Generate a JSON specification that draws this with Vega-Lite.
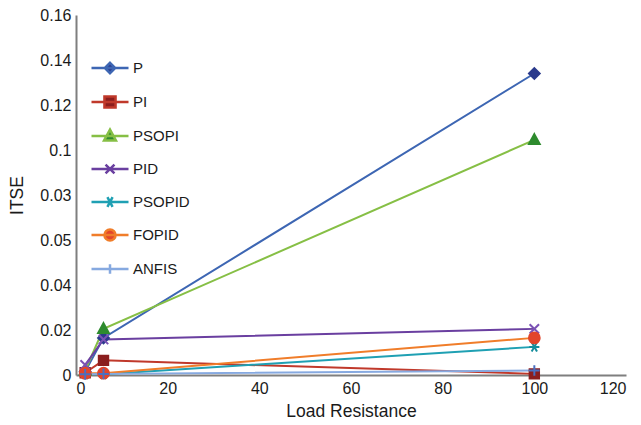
{
  "$schema": "https://vega.github.io/schema/vega-lite/v6.json",
  "width": 550,
  "height": 360,
  "autosize": "none",
  "padding": {"left": 76, "top": 15, "right": 15, "bottom": 50},
  "background": "white",
  "config": {
    "view": {"stroke": null},
    "font": "Liberation Sans",
    "axis": {
      "grid": false,
      "ticks": false,
      "domainColor": "#7f7f7f",
      "domainWidth": 2,
      "labelFont": "Liberation Sans",
      "labelFontSize": 16,
      "labelColor": "#1a1a1a",
      "titleFont": "Liberation Sans",
      "titleFontSize": 17.5,
      "titleFontWeight": "normal",
      "titleColor": "#1a1a1a"
    }
  },
  "data": {
    "values": [
      {"series": "P", "x": 2, "y": 0.0015},
      {"series": "P", "x": 6, "y": 0.0165},
      {"series": "P", "x": 100, "y": 0.134},
      {"series": "PI", "x": 2, "y": 0.001},
      {"series": "PI", "x": 6, "y": 0.0065},
      {"series": "PI", "x": 100, "y": 0.0005},
      {"series": "PSOPI", "x": 2, "y": 0.002},
      {"series": "PSOPI", "x": 6, "y": 0.0205},
      {"series": "PSOPI", "x": 100, "y": 0.1045},
      {"series": "PID", "x": 2, "y": 0.0045},
      {"series": "PID", "x": 6, "y": 0.0158},
      {"series": "PID", "x": 100, "y": 0.0205},
      {"series": "PSOPID", "x": 2, "y": 0.0003},
      {"series": "PSOPID", "x": 6, "y": 0.0003},
      {"series": "PSOPID", "x": 100, "y": 0.0125},
      {"series": "FOPID", "x": 2, "y": 0.0008},
      {"series": "FOPID", "x": 6, "y": 0.0008},
      {"series": "FOPID", "x": 100, "y": 0.0165},
      {"series": "ANFIS", "x": 2, "y": 0.0003},
      {"series": "ANFIS", "x": 6, "y": 0.0005},
      {"series": "ANFIS", "x": 100, "y": 0.002}
    ]
  },
  "encoding": {
    "x": {
      "field": "x", "type": "quantitative",
      "scale": {"domain": [0, 120], "nice": false},
      "axis": {"values": [0, 20, 40, 60, 80, 100, 120], "title": "Load Resistance", "labelPadding": 5, "titlePadding": 6}
    },
    "y": {
      "field": "y", "type": "quantitative",
      "scale": {"domain": [0, 0.16], "nice": false},
      "axis": {
        "values": [0, 0.02, 0.04, 0.06, 0.08, 0.1, 0.12, 0.14, 0.16],
        "labelExpr": "abs(datum.value-0.06)<0.001 ? '0.05' : abs(datum.value-0.08)<0.001 ? '0.03' : format(datum.value, '.2~f')",
        "title": "ITSE",
        "labelPadding": 5,
        "titlePadding": 13
      }
    }
  },
  "layer": [
    {
      "mark": {"type": "line", "strokeWidth": 2},
      "encoding": {
        "color": {
          "field": "series", "type": "nominal",
          "scale": {
            "domain": ["P", "PI", "PSOPI", "PID", "PSOPID", "FOPID", "ANFIS"],
            "range": ["#3d66b3", "#c0392b", "#86bf45", "#6a3fa0", "#1fa0b3", "#f07d2a", "#86a9e0"]
          },
          "legend": null
        }
      }
    },
    {
      "mark": {"type": "point", "filled": true, "size": 180, "strokeWidth": 2, "opacity": 1},
      "encoding": {
        "shape": {
          "field": "series", "type": "nominal",
          "scale": {
            "domain": ["P", "PI", "PSOPI", "PID", "PSOPID", "FOPID", "ANFIS"],
            "range": [
              "M0,-0.8L0.8,0L0,0.8L-0.8,0Z",
              "M-0.7,-0.7H0.7V0.7H-0.7Z",
              "M0,-0.85L0.8,0.6H-0.8Z",
              "M-0.7,-0.7L0.7,0.7M-0.7,0.7L0.7,-0.7",
              "M-0.75,0H0.75M-0.4,-0.7L0.4,0.7M-0.4,0.7L0.4,-0.7",
              "M-0.8,0A0.8,0.8,0,1,0,0.8,0A0.8,0.8,0,1,0,-0.8,0Z",
              "M-0.8,0H0.8M0,-0.8V0.8"
            ]
          },
          "legend": null
        },
        "fill": {
          "field": "series", "type": "nominal",
          "scale": {
            "domain": ["P", "PI", "PSOPI", "PID", "PSOPID", "FOPID", "ANFIS"],
            "range": ["#2b3a8c", "#8b1e1e", "#2e8b2e", "#7b52b5", "#148d9c", "#e2452b", "#4a6fc0"]
          },
          "legend": null
        },
        "stroke": {
          "field": "series", "type": "nominal",
          "scale": {
            "domain": ["P", "PI", "PSOPI", "PID", "PSOPID", "FOPID", "ANFIS"],
            "range": ["#2b3a8c", "#8b1e1e", "#2e8b2e", "#7b52b5", "#148d9c", "#e2452b", "#4a6fc0"]
          },
          "legend": null
        }
      }
    },
    {
      "transform": [{"filter": "false"}],
      "mark": {"type": "point", "filled": true, "strokeWidth": 2.5, "opacity": 1},
      "encoding": {
        "shape": {
          "field": "series", "type": "nominal",
          "scale": {
            "domain": ["P", "PI", "PSOPI", "PID", "PSOPID", "FOPID", "ANFIS"],
            "range": [
              "M-1,0H1M0,-0.28L0.28,0L0,0.28L-0.28,0Z",
              "M-1,0H1M-0.3,-0.3H0.3V0.3H-0.3Z",
              "M-1,0H1M0,-0.34L0.32,0.24H-0.32Z",
              "M-1,0H1M-0.24,-0.24L0.24,0.24M-0.24,0.24L0.24,-0.24",
              "M-1,0H1M-0.14,-0.26L0.14,0.26M-0.14,0.26L0.14,-0.26",
              "M-1,0H1M-0.3,0A0.3,0.3,0,1,0,0.3,0A0.3,0.3,0,1,0,-0.3,0Z",
              "M-1,0H1M0,-0.26V0.26"
            ]
          },
          "legend": {
            "title": null,
            "orient": "none",
            "legendX": 14,
            "legendY": 33,
            "padding": 0,
            "symbolSize": 1369,
            "symbolStrokeWidth": 2.5,
            "labelFont": "Liberation Sans",
            "labelFontSize": 15,
            "labelColor": "#1a1a1a",
            "labelOffset": 3,
            "rowPadding": 3
          }
        },
        "fill": {
          "field": "series", "type": "nominal",
          "scale": {
            "domain": ["P", "PI", "PSOPI", "PID", "PSOPID", "FOPID", "ANFIS"],
            "range": ["#2b3a8c", "#8b1e1e", "#2e8b2e", "#7b52b5", "#148d9c", "#e2452b", "#4a6fc0"]
          }
        },
        "stroke": {
          "field": "series", "type": "nominal",
          "scale": {
            "domain": ["P", "PI", "PSOPI", "PID", "PSOPID", "FOPID", "ANFIS"],
            "range": ["#3d66b3", "#c0392b", "#86bf45", "#6a3fa0", "#1fa0b3", "#f07d2a", "#86a9e0"]
          }
        }
      }
    }
  ],
  "resolve": {"scale": {"shape": "independent", "fill": "independent", "stroke": "independent"}}
}
